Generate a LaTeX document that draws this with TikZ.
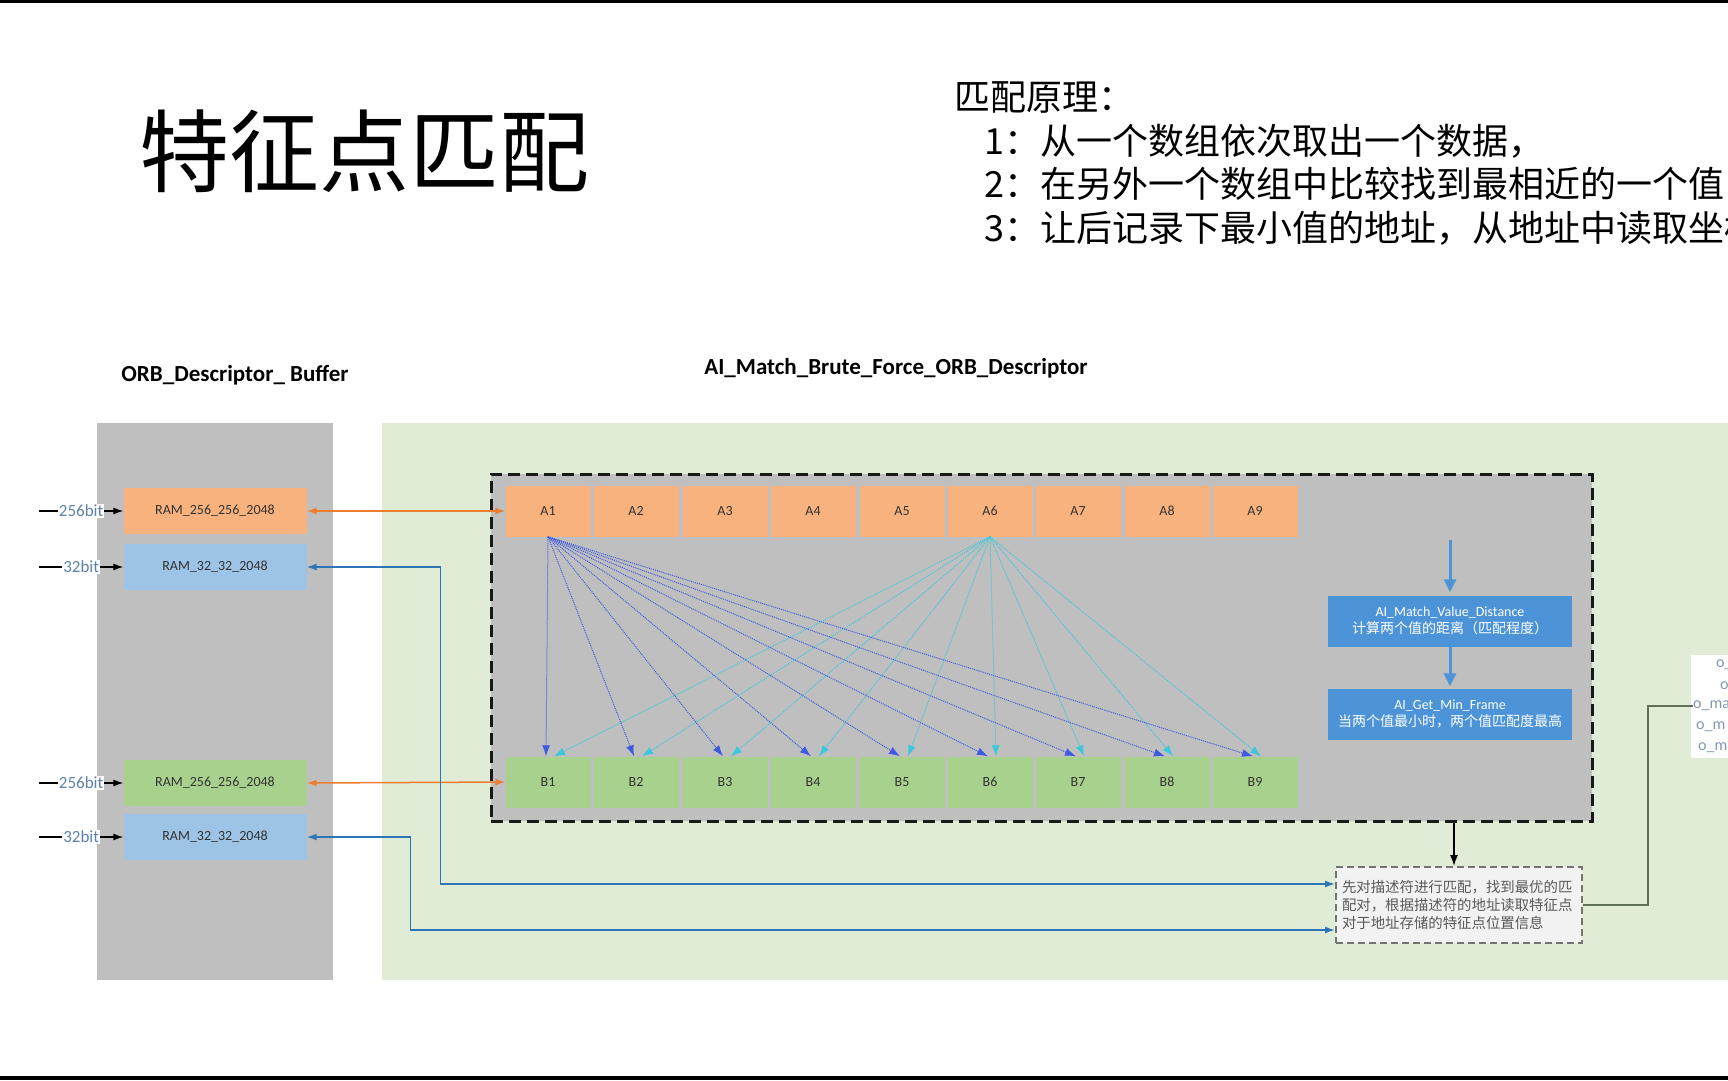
\documentclass[tikz,border=0pt]{standalone}
\usepackage{fontspec}
\setmainfont{Carlito}
\newfontfamily\cjk{Noto Sans CJK SC}
\usetikzlibrary{arrows.meta}

\definecolor{panelgray}{HTML}{BFBFBF}
\definecolor{panelgreen}{HTML}{E0ECD6}
\definecolor{cellorange}{HTML}{F7B27E}
\definecolor{cellgreen}{HTML}{A9D18E}
\definecolor{ramblue}{HTML}{9DC3E6}
\definecolor{boxblue}{HTML}{4C93D8}
\definecolor{linkorange}{HTML}{ED7D31}
\definecolor{linkblue}{HTML}{2E75B6}
\definecolor{fanblue}{HTML}{3D5BE0}
\definecolor{fancyan}{HTML}{3CC8DC}
\definecolor{bitblue}{HTML}{5F82AA}
\definecolor{wireolive}{HTML}{5F6F58}
\definecolor{portgray}{HTML}{8497B0}

\begin{document}
\begin{tikzpicture}[x=1pt,y=-1pt,
    cell/.style={inner sep=0pt,minimum width=85pt,minimum height=51pt,text=black!80,font=\fontsize{14}{14}\selectfont},
    ram/.style={inner sep=0pt,minimum width=183pt,minimum height=46pt,text=black!80,font=\fontsize{14}{14}\selectfont},
    bitlabel/.style={fill=white,inner sep=1pt,text=bitblue,font=\fontsize{17}{17}\selectfont},
    flowbox/.style={fill=boxblue,text=white,inner sep=0pt,minimum width=244pt,minimum height=51pt,align=center,font=\fontsize{14}{17}\selectfont},
    port/.style={anchor=west,inner sep=0pt,text=portgray,font=\fontsize{16}{16}\selectfont},
    rule/.style={anchor=west,inner sep=0pt,font=\cjk\fontsize{36}{36}\selectfont}]

        \useasboundingbox (0,0) rectangle (1728,1080);
        \clip (0,0) rectangle (1728,1080);
        \fill[black] (0,0) rectangle (1728,3);
        \fill[black] (0,1076) rectangle (1728,1080);

        \node[font=\cjk\fontsize{90}{90}\selectfont] (title) at (364,151) {特征点匹配};
        \node[rule] (rule0) at (954,97)  {匹配原理：};
        \node[rule] (rule1) at (984,141) {1：从一个数组依次取出一个数据，};
        \node[rule] (rule2) at (984,184) {2：在另外一个数组中比较找到最相近的一个值};
        \node[rule] (rule3) at (984,228) {3：让后记录下最小值的地址，从地址中读取坐标};

        \fill[panelgray] (97,423) rectangle (333,980);
        \fill[panelgreen] (382,423) rectangle (1740,980);
        \fill[white] (1691,655) rectangle (1740,758);

        \begin{scope}[every node/.style={font=\bfseries\fontsize{23}{23}\selectfont}]
          \node (buflabel)   at (235,375) {ORB\_Descriptor\_ Buffer};
          \node (matchlabel) at (896,368) {AI\_Match\_Brute\_Force\_ORB\_Descriptor};
        \end{scope}

        \node[draw=black!90,fill=panelgray,line width=3pt,dash pattern=on 12pt off 6pt,
              minimum width=1101pt,minimum height=347pt] (match) at (1041.5,647.5) {};

        \node[ram,fill=cellorange] (ramA)     at (215,511) {RAM\_256\_256\_2048};
        \node[ram,fill=ramblue]    (ramAaddr) at (215,567) {RAM\_32\_32\_2048};
        \node[ram,fill=cellgreen]  (ramB)     at (215,783) {RAM\_256\_256\_2048};
        \node[ram,fill=ramblue]    (ramBaddr) at (215,837) {RAM\_32\_32\_2048};

        \coordinate (inA)     at (39,511);
        \coordinate (inAaddr) at (39,567);
        \coordinate (inB)     at (39,783);
        \coordinate (inBaddr) at (39,837);

        \begin{scope}[every path/.style={draw,line width=1.2pt,-{Latex[length=10pt,width=7pt]}}]
          \path (inA)     -- node[bitlabel] {256bit} (ramA.west);
          \path (inAaddr) -- node[bitlabel] {32bit}  (ramAaddr.west);
          \path (inB)     -- node[bitlabel] {256bit} (ramB.west);
          \path (inBaddr) -- node[bitlabel] {32bit}  (ramBaddr.west);
        \end{scope}

        \begin{scope}[every node/.style={cell,fill=cellorange}]
          \node (A1) at (548,511)  {A1};
          \node (A2) at (636,511)  {A2};
          \node (A3) at (725,511)  {A3};
          \node (A4) at (813,511)  {A4};
          \node (A5) at (902,511)  {A5};
          \node (A6) at (990,511)  {A6};
          \node (A7) at (1078,511) {A7};
          \node (A8) at (1167,511) {A8};
          \node (A9) at (1255,511) {A9};
        \end{scope}

        \begin{scope}[every node/.style={cell,fill=cellgreen}]
          \node (B1) at (548,782)  {B1};
          \node (B2) at (636,782)  {B2};
          \node (B3) at (725,782)  {B3};
          \node (B4) at (813,782)  {B4};
          \node (B5) at (902,782)  {B5};
          \node (B6) at (990,782)  {B6};
          \node (B7) at (1078,782) {B7};
          \node (B8) at (1167,782) {B8};
          \node (B9) at (1255,782) {B9};
        \end{scope}

        \begin{scope}[every edge/.style={draw,fancyan,line width=1pt,densely dotted,-{Latex[length=11pt,width=8pt]}}]
          \path (A6.south) edge ([xshift=6pt]B1.north);
          \path (A6.south) edge ([xshift=6pt]B2.north);
          \path (A6.south) edge ([xshift=6pt]B3.north);
          \path (A6.south) edge ([xshift=6pt]B4.north);
          \path (A6.south) edge ([xshift=6pt]B5.north);
          \path (A6.south) edge ([xshift=6pt]B6.north);
          \path (A6.south) edge ([xshift=6pt]B7.north);
          \path (A6.south) edge ([xshift=6pt]B8.north);
          \path (A6.south) edge ([xshift=6pt]B9.north);
        \end{scope}

        \begin{scope}[every edge/.style={draw,fanblue,line width=1pt,densely dotted,-{Latex[length=11pt,width=8pt]}}]
          \path (A1.south) edge ([xshift=-2pt]B1.north);
          \path (A1.south) edge ([xshift=-2pt]B2.north);
          \path (A1.south) edge ([xshift=-2pt]B3.north);
          \path (A1.south) edge ([xshift=-2pt]B4.north);
          \path (A1.south) edge ([xshift=-2pt]B5.north);
          \path (A1.south) edge ([xshift=-2pt]B6.north);
          \path (A1.south) edge ([xshift=-2pt]B7.north);
          \path (A1.south) edge ([xshift=-2pt]B8.north);
          \path (A1.south) edge ([xshift=-2pt]B9.north);
        \end{scope}

        \node[flowbox] (dist) at (1450,621) {AI\_Match\_Value\_Distance\\\cjk 计算两个值的距离（匹配程度）};
        \node[flowbox] (minf) at (1450,714) {AI\_Get\_Min\_Frame\\\cjk 当两个值最小时，两个值匹配度最高};
        \coordinate (distin) at (1450,540);

        \begin{scope}[every path/.style={draw,boxblue,line width=3pt,-{Triangle[length=13pt,width=12pt]}}]
          \path (distin) -- ([yshift=3pt]dist.north);
          \path (dist) -- ([yshift=2pt]minf.north);
        \end{scope}

        \node[draw=black!55,fill=black!5,line width=2pt,dash pattern=on 7pt off 4pt,
              minimum width=246pt,minimum height=76pt,text width=234pt,inner sep=6pt,
              align=left,text=black!65,font=\cjk\fontsize{14.4}{18}\selectfont] (result) at (1459,905)
              {先对描述符进行匹配，找到最优的匹\\配对，根据描述符的地址读取特征点\\对于地址存储的特征点位置信息};

        \node[port] (o1) at (1716,665) {o\_};
        \node[port] (o2) at (1720,686) {o};
        \node[port] (o3) at (1693,706) {o\_ma};
        \node[port] (o4) at (1696,727) {o\_m};
        \node[port] (o5) at (1698,748) {o\_m};

        \draw[linkorange,line width=1.5pt,{Latex[length=10pt,width=7pt]}-{Latex[length=10pt,width=7pt]}] (ramA.east) -- (A1.west);
        \draw[linkorange,line width=1.5pt,{Latex[length=10pt,width=7pt]}-{Latex[length=10pt,width=7pt]}] (ramB.east) -- (B1.west);

        \draw[linkblue,line width=1.5pt,{Latex[length=10pt,width=7pt]}-{Latex[length=10pt,width=7pt]}]
          (ramAaddr.east) -- ++(134,0) |- ([yshift=21pt]result.west);
        \draw[linkblue,line width=1.5pt,{Latex[length=10pt,width=7pt]}-{Latex[length=10pt,width=7pt]}]
          (ramBaddr.east) -- ++(104,0) |- ([yshift=-25pt]result.west);

        \draw[line width=1.5pt,-{Latex[length=11pt,width=8pt]}] ([xshift=-5pt]result.north |- match.south) -- ([xshift=-5pt]result.north);
        \draw[wireolive,line width=2pt] (result.east) -- ++(65,0) |- (o3.west);

      \end{tikzpicture}
\end{document}
